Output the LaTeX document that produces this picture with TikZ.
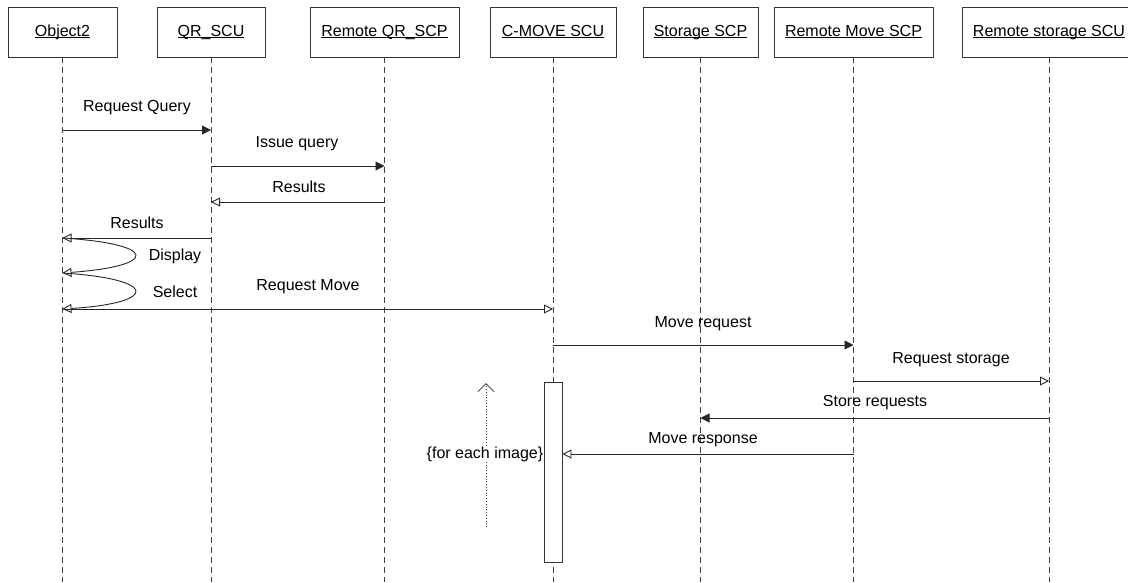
\documentclass[tikz,border=0pt]{standalone}
\usepackage{fontspec}
\setmainfont{Liberation Sans}
\usetikzlibrary{arrows.meta}
\newcommand\myul[1]{\setbox0\hbox{#1}\rlap{\rule[-2pt]{\wd0}{0.8pt}}\box0}
\begin{document}
\begin{tikzpicture}[x=1pt,y=-1pt,
  every node/.style={font=\fontsize{16}{19}\selectfont},
  obj/.style={draw=black!80, line width=0.9pt, fill=white, minimum height=50pt, inner sep=0pt, text height=11.5pt, text depth=3.5pt},
  life/.style={draw=black!75, line width=0.9pt, dash pattern=on 6pt off 4pt},
  msg/.style={draw=black!85, line width=0.9pt},
  sync/.style={msg, -{Triangle[length=9pt,width=9pt]}},
  ret/.style={msg, -{Triangle[open,length=9pt,width=9pt]}},
  lbl/.style={inner sep=1pt},
  act/.style={draw=black!80, line width=0.9pt, fill=white, minimum width=18pt, minimum height=180pt, inner sep=0pt}
]
\useasboundingbox (0,0) rectangle (1128,582);
% objects
\node[obj, minimum width=109pt] (o1) at (62.5,32) {\myul{Object2}};
\node[obj, minimum width=108pt] (o2) at (211,32) {\myul{QR\_SCU}};
\node[obj, minimum width=149pt] (o3) at (384.5,32) {\myul{Remote QR\_SCP}};
\node[obj, minimum width=126pt] (o4) at (553,32) {\myul{C-MOVE SCU}};
\node[obj, minimum width=115pt] (o5) at (700.5,32) {\myul{Storage SCP}};
\node[obj, minimum width=159pt] (o6) at (853.5,32) {\myul{Remote Move SCP}};
\node[obj, minimum width=174pt] (o7) at (1049,32) {\myul{Remote storage SCU}};
% lifelines
\foreach \n in {o1,o2,o3,o4,o5,o6,o7}{
  \coordinate (\n-end) at (\n.south |- 0,582);
  \draw[life] (\n.south) -- (\n-end);
}
% activation
\node[act] (act) at (553,472) {};
% messages
\draw[sync] (o1 |- 0,130) -- (o2 |- 0,130);
\node[lbl] (l1) at (137,108) {Request Query};
\draw[sync] (o2 |- 0,166) -- (o3 |- 0,166);
\node[lbl] (l2) at (297,144) {Issue query};
\draw[ret] (o3 |- 0,202) -- (o2 |- 0,202);
\node[lbl] (l3) at (299,187) {Results};
\draw[ret] (o2 |- 0,238) -- (o1 |- 0,238);
\node[lbl] (l4) at (137,223) {Results};
\draw[ret] (o1 |- 0,238) .. controls (159,244) and (159,266) .. (o1 |- 0,273);
\node[lbl] (l5) at (175,256) {Display};
\draw[ret] (o1 |- 0,273) .. controls (159,279) and (159,303) .. (o1 |- 0,309);
\node[lbl] (l6) at (175,292) {Select};
\draw[ret] (o1 |- 0,309) -- (o4 |- 0,309);
\node[lbl] (l7) at (308,287) {Request Move};
\draw[sync] (o4 |- 0,345) -- (o6 |- 0,345);
\node[lbl] (l8) at (703,324) {Move request};
\draw[ret] (o6 |- 0,381) -- (o7 |- 0,381);
\node[lbl] (l9) at (951,360) {Request storage};
\draw[sync] (o7 |- 0,418) -- (o5 |- 0,418);
\node[lbl] (l10) at (875,403) {Store requests};
\draw[ret] (o6 |- 0,454) -- (act.east |- 0,454);
\node[lbl] (l11) at (703,440) {Move response};
% loop annotation
\coordinate (lpb) at (486,527);
\coordinate (lpt) at (486,383);
\draw[draw=black!80, line width=0.8pt, dotted, -{Straight Barb[length=8pt,width=16pt,line width=0.8pt]}] (lpb) -- (lpt);
\node[lbl, fill=white, inner sep=0.5pt] (loop) at (485,454) {\{for each image\}};
\end{tikzpicture}
\end{document}
